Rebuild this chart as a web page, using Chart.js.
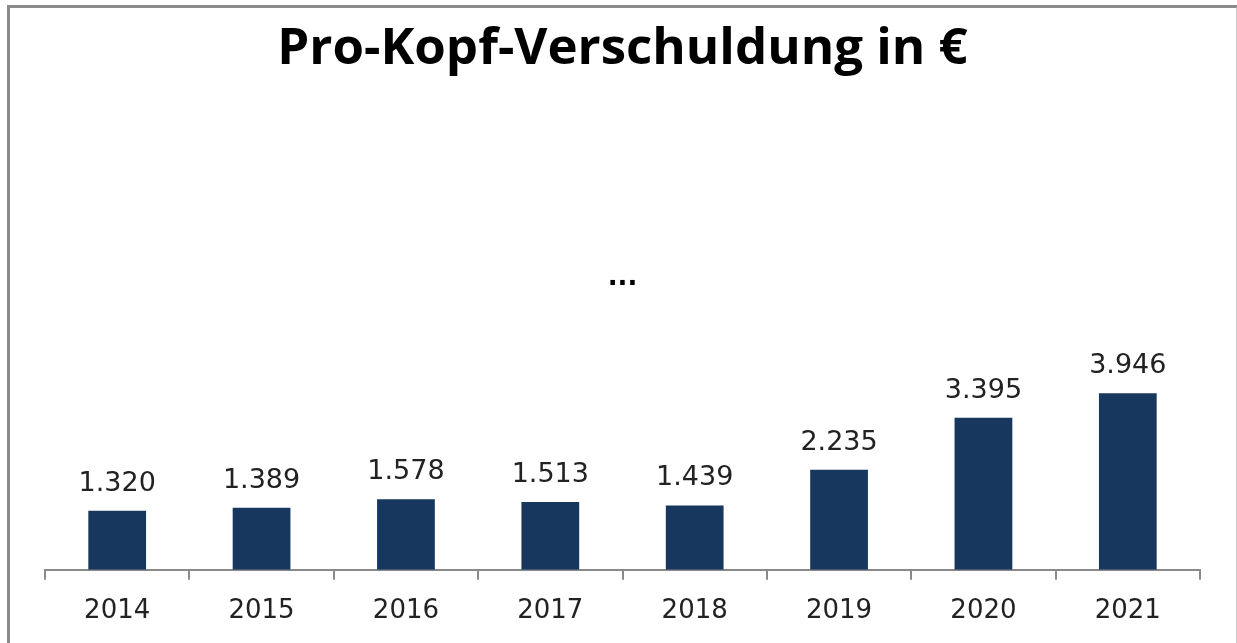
<!DOCTYPE html>
<html>
<head>
<meta charset="utf-8">
<script src="https://cdn.jsdelivr.net/npm/chart.js@4"></script>
<style>
    body { margin: 0; background: #ffffff; }
    #wrap { position: relative; width: 1237px; height: 643px; }
    #frame {
        position: absolute; left: 7px; top: 5px; width: 1226px; height: 640px;
        border-left: 3px solid #8a8a8a; border-top: 3px solid #8a8a8a; border-right: 2px solid #cccccc;
        pointer-events: none;
    }
</style>
</head>
<body>
<div id="wrap">
    <canvas id="debtChart" width="1237" height="643"></canvas>
    <div id="frame"></div>
</div>
<script>
const years = ['2014', '2015', '2016', '2017', '2018', '2019', '2020', '2021']
const debtPerHead = [1320, 1389, 1578, 1513, 1439, 2235, 3395, 3946]
const chartTitle = 'Pro-Kopf-Verschuldung in €'
const gapNote = '...'

function formatDe(value) {
    return String(value).replace(/\B(?=(\d{3})+(?!\d))/g, '.')
}

const labelFont = "'DejaVu Sans', sans-serif"

const valueLabels = {
    id: 'valueLabels',
    afterDatasetsDraw(chart) {
        const {ctx, chartArea} = chart
        const meta = chart.getDatasetMeta(0)
        ctx.save()
        ctx.fillStyle = '#222222'
        ctx.font = "27px " + labelFont
        ctx.textAlign = 'center'
        ctx.textBaseline = 'alphabetic'
        meta.data.forEach((bar, i) => {
            ctx.fillText(formatDe(debtPerHead[i]), bar.x, bar.y - 20)
        })
        // the "..." hint in the middle of the plot
        ctx.font = "bold 26px " + labelFont
        ctx.fillStyle = '#000000'
        ctx.fillText(gapNote, (chartArea.left + chartArea.right) / 2, 285)
        ctx.restore()
    }
}

new Chart(document.getElementById('debtChart'), {
    type: 'bar',
    data: {
        labels: years,
        datasets: [{
            data: debtPerHead,
            backgroundColor: '#17375e',
            borderWidth: 0,
            barPercentage: 0.4,
            categoryPercentage: 1.0
        }]
    },
    options: {
        responsive: false,
        animation: false,
        layout: {
            padding: {left: 45, right: 37, top: 0, bottom: 0}
        },
        scales: {
            x: {
                grid: {
                    offset: true,
                    drawOnChartArea: false,
                    drawTicks: true,
                    tickLength: 10,
                    color: '#8a8a8a',
                    lineWidth: 2
                },
                border: {
                    display: true,
                    color: '#8a8a8a',
                    width: 2
                },
                ticks: {
                    color: '#222222',
                    padding: 16,
                    font: {size: 26, family: labelFont}
                }
            },
            y: {
                display: false,
                min: 0,
                max: 10000
            }
        },
        plugins: {
            legend: {display: false},
            tooltip: {enabled: false},
            title: {
                display: true,
                text: chartTitle,
                color: '#000000',
                padding: {top: 19, bottom: 42},
                font: {size: 51, weight: 'bold', family: "'Open Sans', sans-serif"}
            }
        }
    },
    plugins: [valueLabels]
})
</script>
</body>
</html>
